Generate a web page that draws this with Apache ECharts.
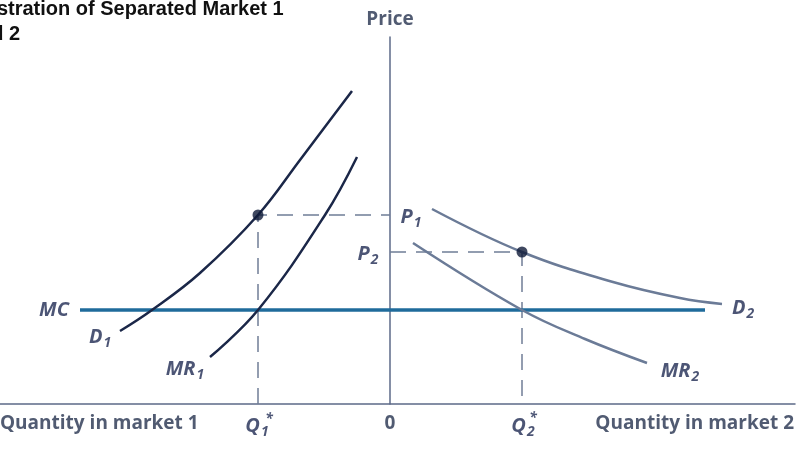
<!DOCTYPE html>
<html>
<head>
<meta charset="utf-8">
<script src="https://cdn.jsdelivr.net/npm/echarts@6/dist/echarts.min.js"></script>
<style>
  html, body { margin: 0; padding: 0; background: #fff; }
  #chart { width: 805px; height: 456px; }
</style>
</head>
<body>
<div id="chart"></div>
<script>
// x = quantity (market 1 to the left of 0, market 2 to the right), y = price
const d1  = [[-27, 7.3], [-23.8, 9.4], [-19, 13.1], [-13.2, 18.9], [-9, 24.4], [-3.8, 31.3]];
const mr1 = [[-18, 4.7], [-13.2, 9.4], [-6.5, 18.9], [-3.3, 24.7]];
const d2  = [[4.2, 19.5], [13.2, 15.2], [22.3, 12.2], [29, 10.6], [33.2, 10.0]];
const mr2 = [[2.3, 16.1], [13.2, 9.4], [19.5, 6.5], [25.7, 4.1]];
const mc  = [[-31, 9.4], [31.5, 9.4]];

const q1 = -13.2, q2 = 13.2, p1 = 18.9, p2 = 15.2;
const guide1 = [[q1, 0], [q1, p1], [0, p1]];
const guide2 = [[0, p2], [q2, p2], [q2, 0]];
const dots = [[q1, p1], [q2, p2]];

// [x, y, text]
const italicLabels = [
  [-33.6, 9.4, '{i|MC}'],
  [-29.0, 6.7, '{i|D}{s|1}'],
  [-20.5, 3.5, '{i|MR}{s|1}'],
  [2.1, 18.7, '{i|P}{s|1}'],
  [-2.2, 15.0, '{i|P}{s|2}'],
  [35.3, 9.6, '{i|D}{s|2}'],
  [29.0, 3.3, '{i|MR}{s|2}'],
  [-13.3, -2.2, '{i|Q}{s|1}'],
  [13.3, -2.2, '{i|Q}{s|2}']
];
const stars = [[-12.1, -1.5], [14.3, -1.4]];
const axisTexts = [
  [0, 38.4, 'Price', 'center'],
  [0, -2.0, '0', 'center'],
  [-39, -2.0, 'Quantity in market 1', 'left'],
  [40.4, -2.0, 'Quantity in market 2', 'right']
];

const navy = '#1f2b52';
const font = 'Open Sans';

let myChart = echarts.init(document.getElementById('chart'));

function curve(data, color, width) {
  return {
    type: 'line', data: data, smooth: 0.4, symbol: 'none', silent: true,
    lineStyle: { color: color, width: width }, z: 3
  };
}
function guide(data) {
  return {
    type: 'line', data: data, symbol: 'none', silent: true,
    lineStyle: { color: '#6f7d96', width: 1.5, type: [16, 10] }, z: 2
  };
}

myChart.setOption({
  animation: false,
  title: {
    text: 'Illustration of Separated Market 1\nand 2',
    left: -32, top: -3, padding: 0,
    textStyle: { fontFamily: 'Liberation Sans', fontWeight: 'bold', fontSize: 20, lineHeight: 25, color: '#111' }
  },
  grid: { left: 0, right: 10, top: 37, bottom: 52 },
  xAxis: {
    type: 'value', min: -39, max: 40.5,
    axisLine: { show: true, onZero: false, lineStyle: { color: '#5c6a88', width: 1.5 } },
    axisTick: { show: false }, axisLabel: { show: false }, splitLine: { show: false }
  },
  yAxis: {
    type: 'value', min: 0, max: 36.7,
    axisLine: { show: true, onZero: true, lineStyle: { color: '#5c6a88', width: 1.5 } },
    axisTick: { show: false }, axisLabel: { show: false }, splitLine: { show: false }
  },
  series: [
    guide(guide1),
    guide(guide2),
    curve(mc, '#1f6b9b', 3.5),
    curve(d1, '#1b2748', 2.5),
    curve(mr1, '#1b2748', 2.5),
    curve(d2, '#6b7b97', 2.5),
    curve(mr2, '#6b7b97', 2.5),
    {
      type: 'scatter', data: dots, symbolSize: 11, silent: true, z: 5,
      itemStyle: { color: '#0f1a38' }
    },
    {
      type: 'scatter', data: italicLabels, symbolSize: 0, silent: true, clip: false,
      label: {
        show: true, position: 'inside', align: 'center', verticalAlign: 'middle',
        formatter: p => p.data[2],
        rich: {
          i: { fontFamily: font, fontStyle: 'italic', fontWeight: 'bold', fontSize: 20, color: navy },
          s: { fontFamily: font, fontStyle: 'italic', fontWeight: 'bold', fontSize: 14, color: navy, padding: [12, 0, 0, 1] }
        }
      }
    },
    {
      type: 'scatter', data: stars, symbolSize: 0, silent: true, clip: false,
      label: {
        show: true, position: 'inside', formatter: '*',
        fontFamily: font, fontStyle: 'italic', fontWeight: 'bold', fontSize: 14, color: navy
      }
    },
    {
      type: 'scatter', data: axisTexts, symbolSize: 0, silent: true, clip: false,
      label: {
        show: true, position: 'inside', verticalAlign: 'middle',
        formatter: p => p.data[2],
        align: 'center',
        fontFamily: font, fontWeight: 'bold', fontSize: 19, color: '#26324f'
      },
      labelLayout: p => ({ align: axisTexts[p.dataIndex][3] })
    }
  ]
});
</script>
</body>
</html>
